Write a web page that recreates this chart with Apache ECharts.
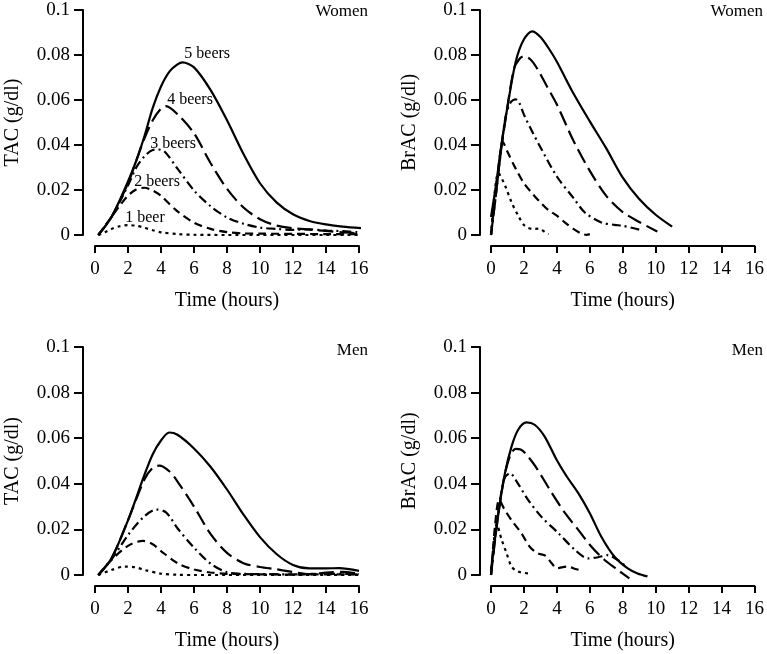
<!DOCTYPE html>
<html>
<head>
<meta charset="utf-8">
<script src="https://cdn.jsdelivr.net/npm/echarts@6/dist/echarts.min.js"></script>
<style>
  html, body { margin: 0; padding: 0; background: #fff; }
  #main { width: 767px; height: 654px; }
</style>
</head>
<body>
<div id="main"></div>
<script>
// [time (hours), concentration (g/dl)]
const beerNames = ['1 beer', '2 beers', '3 beers', '4 beers', '5 beers'];

// Women, TAC
const tacW1 = [[0.2,0],[0.6,0.0012],[1,0.0027],[1.5,0.0039],[2,0.0044],[2.5,0.0041],[3,0.0032],[3.5,0.0021],[4,0.0012],[5,0.0004],[6,0.0001],[8,0],[10,0],[12,0],[14,0],[16,0]];
const tacW2 = [[0.2,0],[1,0.008],[1.5,0.013],[2,0.0175],[2.5,0.0202],[3,0.021],[3.5,0.0198],[4,0.0174],[5,0.0105],[6,0.0055],[7,0.0027],[8,0.0013],[9,0.0007],[10,0.0006],[12,0.0005],[14,0.0004],[16,0.0004]];
const tacW3 = [[0.2,0],[1,0.008],[2,0.022],[2.5,0.03],[3,0.035],[3.5,0.0378],[3.8,0.038],[4.2,0.0372],[5,0.0295],[6,0.0198],[7,0.0128],[8,0.0078],[9,0.005],[10,0.0033],[11,0.0027],[12,0.0023],[13,0.0025],[14,0.002],[15,0.0017],[16,0.0012]];
const tacW4 = [[0.2,0],[1,0.008],[2,0.023],[2.5,0.033],[3,0.043],[3.5,0.051],[4,0.0562],[4.3,0.0573],[5,0.0537],[6,0.0452],[7,0.032],[8,0.0205],[9,0.0122],[10,0.007],[11,0.0042],[12,0.003],[13,0.0024],[14,0.0018],[15,0.0012],[16,0.0008]];
const tacW5 = [[0.2,0],[1,0.008],[2,0.0238],[2.5,0.033],[3,0.044],[3.5,0.0565],[4,0.066],[4.5,0.0725],[5,0.0758],[5.3,0.0767],[6,0.0745],[7,0.0645],[8,0.051],[9,0.036],[10,0.023],[11,0.0145],[12,0.0092],[13,0.0062],[14,0.0047],[15,0.0037],[16.2,0.003]];

// Women, BrAC
const brW1 = [[0,0],[0.2,0.017],[0.45,0.0275],[0.85,0.022],[1.25,0.0145],[1.65,0.0086],[2.05,0.0041],[2.5,0.0027],[2.9,0.0028],[3.3,0.0012],[3.5,0.0004]];
const brW2 = [[0,0],[0.3,0.02],[0.55,0.036],[0.7,0.0415],[1,0.037],[1.5,0.0295],[2,0.023],[2.5,0.0185],[3,0.0145],[3.5,0.011],[4,0.0086],[4.5,0.0055],[5,0.0027],[5.5,0.0006],[5.8,0.0001],[6,0.0004]];
const brW3 = [[0,0],[0.3,0.018],[0.6,0.037],[0.9,0.053],[1.2,0.059],[1.5,0.0603],[1.7,0.059],[2,0.0535],[2.5,0.046],[3,0.039],[4,0.026],[5,0.0165],[5.7,0.01],[6.7,0.0056],[7.5,0.0045],[8,0.0041],[9,0.0024]];
const brW4 = [[0,0],[0.3,0.018],[0.6,0.037],[1,0.057],[1.4,0.074],[1.7,0.078],[2,0.0795],[2.4,0.078],[2.8,0.074],[3.4,0.066],[4,0.058],[5,0.042],[6,0.0285],[7,0.0174],[8,0.0102],[9,0.0058],[10,0.0019],[10.1,0.0015]];
const brW5 = [[0,0.008],[0.3,0.022],[0.65,0.041],[1,0.057],[1.5,0.077],[2,0.087],[2.5,0.0905],[3,0.088],[3.5,0.083],[4,0.077],[5,0.063],[6,0.0505],[7,0.0385],[8,0.0255],[9,0.016],[10,0.009],[11,0.0037]];

// Men, TAC
const tacM1 = [[0.2,0],[1,0.0022],[1.8,0.0037],[2.5,0.0033],[3,0.0022],[4,0.0006],[5,0.0001],[6,0],[8,0],[10,0],[12,0],[14,0],[16,0]];
const tacM2 = [[0.2,0],[1,0.0066],[2,0.0128],[2.9,0.015],[3.5,0.0135],[4,0.0105],[5,0.0052],[6,0.0024],[7,0.0011],[8,0.0005],[10,0.0003],[12,0.0002],[14,0.0003],[16,0.0003]];
const tacM3 = [[0.2,0],[1,0.0068],[2,0.0175],[3,0.0258],[3.7,0.0287],[4.3,0.0275],[5,0.0205],[6,0.012],[7,0.005],[8,0.0012],[9,0.0005],[10,0.0004],[12,0.0003],[14,0.0005],[16,0.0004]];
const tacM4 = [[0.2,0],[1,0.0073],[2,0.024],[3,0.042],[3.5,0.047],[3.9,0.048],[4.5,0.0455],[5,0.041],[6,0.03],[7,0.018],[8,0.0097],[9,0.0052],[10,0.0035],[11,0.0025],[12,0.0013],[13,0.0004],[14,0.001],[15,0.0014],[16,0.0006]];
const tacM5 = [[0.2,0],[1,0.0073],[2,0.024],[3,0.044],[3.5,0.053],[4,0.059],[4.5,0.0625],[5,0.0615],[6,0.0555],[7,0.0475],[8,0.0375],[9,0.0265],[10,0.0166],[11,0.0092],[12,0.0044],[13,0.0029],[14,0.0029],[14.8,0.003],[16,0.0018]];

// Men, BrAC
const brM1 = [[0,0],[0.15,0.013],[0.35,0.0224],[0.65,0.0154],[0.95,0.0095],[1.25,0.0037],[1.65,0.0015],[2.25,0.0007]];
const brM2 = [[0,0],[0.25,0.022],[0.5,0.033],[0.8,0.029],[1.25,0.024],[1.85,0.0183],[2.35,0.0124],[2.85,0.0095],[3.3,0.0085],[3.7,0.005],[4,0.003],[4.6,0.0037],[5.2,0.0025],[5.5,0.002]];
const brM3 = [[0,0],[0.4,0.025],[0.8,0.042],[1.15,0.0447],[1.6,0.0405],[2.25,0.033],[3.05,0.0256],[4.1,0.0183],[5.1,0.011],[5.9,0.0073],[6.5,0.0078],[7.1,0.0087],[7.7,0.0066],[8.1,0.0044]];
const brM4 = [[0,0],[0.45,0.027],[0.85,0.0445],[1.2,0.053],[1.5,0.0553],[1.8,0.055],[2.1,0.0532],[2.7,0.0476],[3.7,0.0359],[4.5,0.0271],[5.3,0.0198],[6.1,0.0124],[6.9,0.0066],[7.7,0.0022],[8.4,-0.0015]];
const brM5 = [[0,0.002],[0.45,0.027],[0.85,0.0447],[1.25,0.0564],[1.65,0.0637],[2.15,0.0669],[2.65,0.0659],[3.25,0.0608],[4,0.0503],[4.6,0.0432],[5.3,0.0359],[6,0.0271],[6.7,0.0168],[7.5,0.008],[8.3,0.0029],[8.9,0.0007],[9.5,-0.0006]];

// where the "n beers" labels sit in the women TAC panel
const beerLabelAt = [[3.03,0.0076],[3.76,0.0238],[4.73,0.0406],[5.76,0.06],[6.8,0.0805]];

const panels = [
  { series: [tacW1, tacW2, tacW3, tacW4, tacW5], yName: 'TAC (g/dl)', title: 'Women' },
  { series: [brW1, brW2, brW3, brW4, brW5], yName: 'BrAC (g/dl)', title: 'Women' },
  { series: [tacM1, tacM2, tacM3, tacM4, tacM5], yName: 'TAC (g/dl)', title: 'Men' },
  { series: [brM1, brM2, brM3, brM4, brM5], yName: 'BrAC (g/dl)', title: 'Men' }
];

const FONT = '"Liberation Serif", "DejaVu Serif", serif';
const dashes = [[3, 4], [8, 5], [9, 4, 2, 4], [15, 6], 'solid'];

const grids = [
  { left: 95, top: 10, width: 264, height: 225 },
  { left: 491, top: 10, width: 264, height: 225 },
  { left: 95, top: 347, width: 264, height: 228 },
  { left: 491, top: 347, width: 264, height: 228 }
];

const axisLine = { onZero: false, lineStyle: { color: '#000', width: 2 } };

const myChart = echarts.init(document.getElementById('main'));

const xAxis = grids.map((g, i) => ({
  type: 'value', gridIndex: i, min: 0, max: 16, interval: 2, offset: 11,
  name: 'Time (hours)', nameLocation: 'middle', nameGap: 45,
  nameTextStyle: { fontFamily: FONT, fontSize: 20, color: '#000' },
  axisLine: axisLine,
  axisTick: { length: 7, lineStyle: { color: '#000', width: 2 } },
  axisLabel: { fontFamily: FONT, fontSize: 19, color: '#000', margin: 14 },
  splitLine: { show: false }
}));

const yAxis = grids.map((g, i) => ({
  type: 'value', gridIndex: i, min: 0, max: 0.1, interval: 0.02, offset: i % 2 ? 11 : 12,
  name: panels[i].yName, nameLocation: 'middle', nameGap: 60,
  nameTextStyle: { fontFamily: FONT, fontSize: 20, color: '#000' },
  axisLine: axisLine,
  axisTick: { length: 9, lineStyle: { color: '#000', width: 2 } },
  axisLabel: { fontFamily: FONT, fontSize: 19, color: '#000', margin: 13 },
  splitLine: { show: false }
}));

const series = [];
panels.forEach((p, i) => {
  p.series.forEach((data, k) => {
    const s = {
      name: beerNames[k], type: 'line', xAxisIndex: i, yAxisIndex: i,
      data: data, smooth: 0.3, symbol: 'none', clip: false, silent: true,
      lineStyle: { color: '#000', width: 2.2, type: dashes[k], cap: 'butt' }
    };
    if (i === 0) {
      s.markPoint = {
        symbol: 'circle', symbolSize: 1, silent: true,
        itemStyle: { color: 'rgba(0,0,0,0)' },
        label: { show: true, position: 'inside', formatter: beerNames[k], color: '#000', fontFamily: FONT, fontSize: 16 },
        data: [{ coord: beerLabelAt[k] }]
      };
    }
    series.push(s);
  });
});

const option = {
  animation: false,
  backgroundColor: '#fff',
  title: [
    { text: 'Women', right: 399, top: 3 },
    { text: 'Women', right: 4, top: 3 },
    { text: 'Men', right: 399, top: 342 },
    { text: 'Men', right: 4, top: 342 }
  ].map(t => Object.assign(t, { padding: 0, textStyle: { fontFamily: FONT, fontSize: 17, fontWeight: 'normal', color: '#000' } })),
  grid: grids,
  xAxis: xAxis,
  yAxis: yAxis,
  series: series
};

myChart.setOption(option);
</script>
</body>
</html>
